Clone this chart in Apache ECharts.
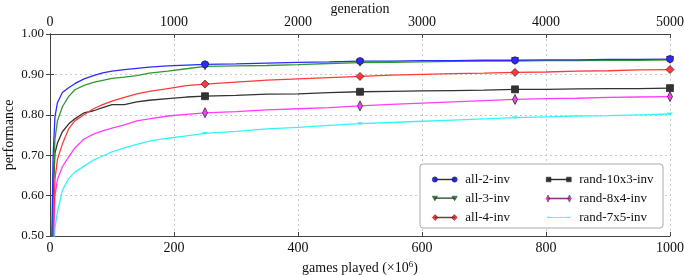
<!DOCTYPE html>
<html><head><meta charset="utf-8">
<script src="https://cdn.jsdelivr.net/npm/echarts@6/dist/echarts.min.js"></script>
<style>html,body{margin:0;padding:0;background:#fff}#c{width:684px;height:275px}</style>
</head><body><div id="c"></div>
<script>
const games = [2,5,8,12,20,30,40,55,70,85,100,120,140,160,190,220,250,300,350,400,450,500,550,600,650,700,750,800,850,900,950,1000];
const all2 = [0.40,0.70,0.795,0.83,0.855,0.867,0.877,0.889,0.897,0.904,0.908,0.912,0.915,0.918,0.921,0.923,0.925,0.926,0.928,0.930,0.931,0.933,0.933,0.934,0.934,0.935,0.935,0.936,0.936,0.937,0.937,0.938];
const all3 = [0.35,0.62,0.74,0.785,0.82,0.845,0.862,0.873,0.880,0.885,0.890,0.893,0.897,0.903,0.908,0.914,0.920,0.921,0.922,0.924,0.927,0.929,0.930,0.931,0.932,0.933,0.933,0.934,0.934,0.935,0.935,0.936];
const all4 = [0.30,0.50,0.64,0.69,0.728,0.765,0.785,0.800,0.815,0.825,0.834,0.843,0.852,0.858,0.865,0.872,0.876,0.881,0.886,0.889,0.892,0.895,0.898,0.900,0.902,0.903,0.905,0.906,0.908,0.909,0.911,0.912];
const rand10x3 = [0.35,0.60,0.705,0.73,0.758,0.777,0.790,0.805,0.810,0.818,0.825,0.825,0.832,0.836,0.840,0.844,0.846,0.848,0.851,0.852,0.855,0.857,0.858,0.859,0.860,0.861,0.863,0.863,0.864,0.865,0.865,0.866];
const rand8x4 = [0.30,0.45,0.60,0.64,0.672,0.695,0.718,0.740,0.752,0.760,0.767,0.775,0.785,0.790,0.797,0.801,0.805,0.808,0.812,0.815,0.818,0.822,0.826,0.829,0.832,0.835,0.838,0.840,0.841,0.843,0.844,0.845];
const rand7x5 = [0.25,0.40,0.52,0.56,0.613,0.642,0.658,0.673,0.688,0.698,0.708,0.718,0.727,0.735,0.742,0.748,0.754,0.759,0.765,0.769,0.774,0.778,0.781,0.784,0.787,0.790,0.793,0.795,0.797,0.798,0.800,0.802];
const markerGames = [250,500,750,1000];
const seriesNames = ['all-2-inv','all-3-inv','all-4-inv','rand-10x3-inv','rand-8x4-inv','rand-7x5-inv'];
const xTicksBottom = [0,200,400,600,800,1000];
const xTicksTop = [0,1000,2000,3000,4000,5000];
const yTicks = [0.5,0.6,0.7,0.8,0.9,1.0];

const FONT = 'Liberation Serif';
const colors = ['#2b2bff','#2f9a2f','#ff3a3a','#333333','#ff3cff','#33f5f5'];
const symbols = ['circle','triangle','diamond','rect','path://M5,0 L7,10 L5,20 L3,10 Z','path://M0,0 L10,0 L5,6 Z'];
const symSizes = [7,7,8,7,[5,10],[6,3]];
const rotates = [0,180,0,0,0,0];
const borders = [0.7,0.7,0.7,0.7,0.7,0];
const vals = [all2,all3,all4,rand10x3,rand8x4,rand7x5];

function legendIcon(shape){
  const line = 'M5,4.4 L35,4.4 L35,5.6 L5,5.6 Z ';
  let m;
  if(shape==='circle') m = c=>`M${c-4},5 A4,4 0 1,1 ${c+4},5 A4,4 0 1,1 ${c-4},5 Z `;
  else if(shape==='triangle') m = c=>`M${c-4},2 L${c+4},2 L${c},9 Z `;
  else if(shape==='diamond') m = c=>`M${c},0.5 L${c+4.5},5 L${c},9.5 L${c-4.5},5 Z `;
  else if(shape==='rect') m = c=>`M${c-3.5},1.5 L${c+3.5},1.5 L${c+3.5},8.5 L${c-3.5},8.5 Z `;
  else if(shape==='thin') m = c=>`M${c},0 L${c+2.5},5 L${c},10 L${c-2.5},5 Z `;
  else m = c=>`M${c-3},3.5 L${c+3},3.5 L${c},6 Z `;
  return 'path://' + m(5) + line + m(35);
}
const iconShapes = ['circle','triangle','diamond','rect','thin','tri'];

const series = seriesNames.map((n,i)=>({
  name:n, type:'line', xAxisIndex:0, yAxisIndex:0,
  data: games.map((g,j)=>[g, vals[i][j]]),
  symbol: symbols[i], symbolRotate: rotates[i],
  symbolSize: (v)=> markerGames.includes(v[0]) ? symSizes[i] : 0,
  showSymbol:true, showAllSymbol:true,
  clip:true, animation:false,
  lineStyle:{color:colors[i], width:1.3},
  itemStyle:{color:colors[i], borderColor:'#222', borderWidth:borders[i]},
  z: 10-i
}));

const axisLine = {show:true, lineStyle:{color:'#444', width:1}};
const tick = {show:true, inside:true, length:4, lineStyle:{color:'#444'}};
const option = {
  animation:false,
  textStyle:{fontFamily:FONT},
  grid:{left:50, right:14, top:34, bottom:39, containLabel:false, outerBoundsMode:'none'},
  xAxis:[
    {type:'value', position:'bottom', min:0, max:1000, interval:200,
     name:'games played (×10{sup|6})', nameLocation:'middle', nameGap:24, nameMoveOverlap:false,
     nameTextStyle:{fontFamily:FONT, fontSize:14, color:'#111', rich:{sup:{fontSize:9, verticalAlign:'top', padding:[0,0,8,0], fontFamily:FONT, color:'#111'}}},
     axisLine, axisTick:tick,
     axisLabel:{fontFamily:FONT, fontSize:14, color:'#111', margin:5, formatter:v=>String(v)},
     splitLine:{show:true, lineStyle:{type:[2,3], color:'#c8c8c8'}}},
    {type:'value', position:'top', min:0, max:5000, interval:1000,
     name:'generation', nameLocation:'middle', nameGap:18, nameMoveOverlap:false,
     nameTextStyle:{fontFamily:FONT, fontSize:14, color:'#111'},
     axisLine, axisTick:tick,
     axisLabel:{fontFamily:FONT, fontSize:14, color:'#111', margin:5, formatter:v=>String(v)},
     splitLine:{show:false}}
  ],
  yAxis:[
    {type:'value', position:'left', min:0.5, max:1.0, interval:0.1,
     name:'performance', nameLocation:'middle', nameGap:34, nameRotate:90, nameMoveOverlap:false,
     nameTextStyle:{fontFamily:FONT, fontSize:14, color:'#111'},
     axisLine, axisTick:tick,
     axisLabel:{fontFamily:FONT, fontSize:13, color:'#111', margin:6, formatter:v=>v.toFixed(2)},
     splitLine:{show:true, lineStyle:{type:[2,3], color:'#c8c8c8'}}},
    {type:'value', position:'right', min:0.5, max:1.0, interval:0.1,
     axisLine, axisTick:tick,
     axisLabel:{show:false}, splitLine:{show:false}}
  ],
  graphic:[{type:'rect', shape:{x:420, y:164, width:243, height:64, r:3},
    style:{fill:'#fff', stroke:'#aaa', lineWidth:1}, z:50}],
  legend:[0,1].map(col=>({
    orient:'vertical', left: col===0 ? 427 : 541, top:168, z:60,
    itemWidth:25, itemHeight:8, itemGap:6,
    textStyle:{fontFamily:FONT, fontSize:13, color:'#111', padding:[0,0,0,3]},
    data: seriesNames.slice(col*3, col*3+3).map((n,k)=>({name:n, icon:legendIcon(iconShapes[col*3+k]), itemStyle:{color:colors[col*3+k], borderColor:'#222', borderWidth:col*3+k===5?0:0.5}}))
  })),
  series
};
const chart = echarts.init(document.getElementById('c'), null, {renderer:'canvas'});
chart.setOption(option);
</script></body></html>
